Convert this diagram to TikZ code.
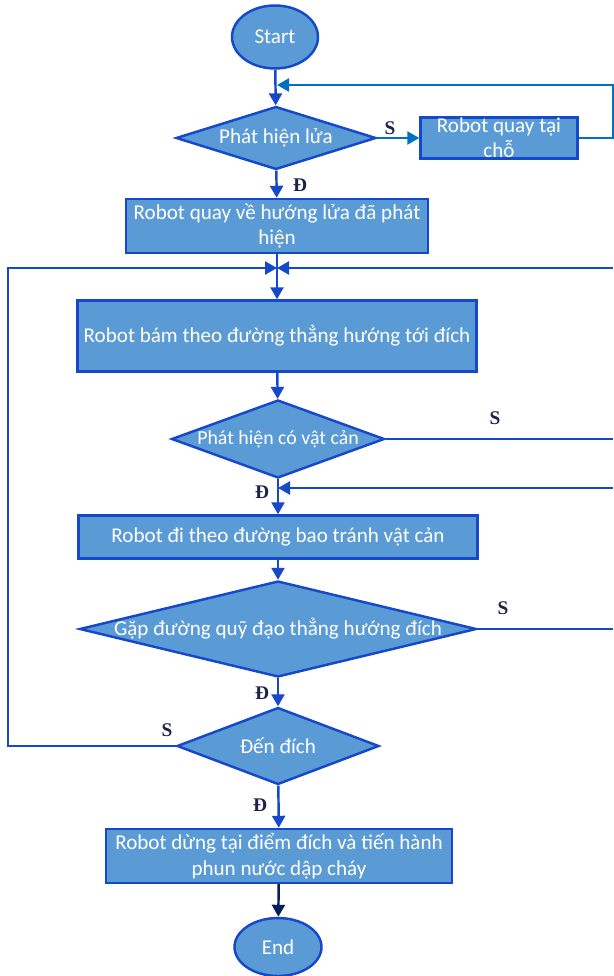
\documentclass[tikz,border=0pt]{standalone}
\usepackage{fontspec}
\setmainfont{Carlito}
\newfontfamily\labelfont{Liberation Serif}
\usetikzlibrary{shapes.geometric,arrows.meta}
\definecolor{boxfill}{RGB}{91,155,213}
\definecolor{boxline}{RGB}{22,72,204}
\definecolor{loopline}{RGB}{0,112,192}
\definecolor{navy}{RGB}{0,32,96}
\definecolor{labelcol}{RGB}{28,36,72}

\begin{document}
\begin{tikzpicture}[x=0.02cm, y=-0.02cm,
  every node/.style={font=\fontsize{12}{14.5}\selectfont, text=white},
  block/.style={rectangle, draw=boxline, fill=boxfill, line width=1.4pt, align=center, inner sep=0pt},
  decision/.style={diamond, draw=boxline, fill=boxfill, line width=1.4pt, inner sep=0pt},
  terminal/.style={ellipse, draw=boxline, fill=boxfill, line width=1.4pt, inner sep=0pt},
  flow/.style={draw=boxline, line width=1.4pt, -{Triangle[length=2.4mm,width=2.6mm]}},
  link/.style={draw=boxline, line width=1.4pt},
  yesno/.style={font=\labelfont\bfseries\fontsize{11}{12}\selectfont, text=labelcol}]
\useasboundingbox (0,0) rectangle (613,976);

\node[terminal, minimum width=1.72cm, minimum height=1.26cm] (start) at (275,37) {Start};
\node[decision, minimum width=4cm, minimum height=1.26cm, label=center:Phát hiện lửa] (fire) at (276,138) {};
\node[block, minimum width=3.14cm, minimum height=0.82cm] (spin) at (499,138) {Robot quay tại\\chỗ};
\node[block, minimum width=6.04cm, minimum height=1.08cm] (turn) at (277,226) {Robot quay về hướng lửa đã phát\\hiện};
\node[block, minimum width=7.98cm, minimum height=1.42cm] (follow) at (277,336) {Robot bám theo đường thẳng hướng tới đích};
\node[decision, minimum width=4.26cm, minimum height=1.56cm, label={[font=\fontsize{11.3}{13}\selectfont]center:Phát hiện có vật cản}] (obst) at (278,439) {};
\node[block, minimum width=7.98cm, minimum height=0.86cm] (avoid) at (278,537) {Robot đi theo đường bao tránh vật cản};
\node[decision, minimum width=7.94cm, minimum height=1.92cm, label=center:Gặp đường quỹ đạo thẳng hướng đích] (meet) at (278,629) {};
\node[decision, minimum width=4.04cm, minimum height=1.54cm, label=center:Đến đích] (goal) at (278,746) {};
\node[block, minimum width=6.92cm, minimum height=1.08cm] (spray) at (279,856) {Robot dừng tại điểm đích và tiến hành\\phun nước dập cháy};
\node[terminal, minimum width=1.74cm, minimum height=1.16cm] (end) at (278,947) {End};

\coordinate (top) at (277,85);
\coordinate (join) at (277,268);
\coordinate (back) at (278,488);
\coordinate (right1) at (613,268);
\coordinate (right2) at (613,439);
\coordinate (right3) at (613,488);
\coordinate (right4) at (613,629);
\coordinate (left) at (8,746);

\draw[flow] (start) -- (fire);
\draw[loopline, line width=1.4pt, -{Triangle[length=2.4mm,width=2.6mm]}] (fire) -- (spin);
\draw[loopline, line width=1.4pt, -{Triangle[length=2.4mm,width=2.6mm]}] (spin.east) -- ++(35,0) |- (top);
\draw[flow] (fire) -- (turn);
\draw[flow] (turn) -- (follow);
\draw[flow] (right1) -- (join);
\draw[flow] (goal.west) -- (left) |- (join);
\draw[flow] (follow) -- (obst);
\draw[link] (obst.east) -- (right2);
\draw[flow] (obst) -- (avoid);
\draw[flow] (right3) -- (back);
\draw[flow] (avoid) -- (meet);
\draw[link] (meet.east) -- (right4);
\draw[flow] (meet) -- (goal);
\draw[flow] (goal) -- (spray);
\draw[navy, line width=1.4pt, -{Triangle[length=2.4mm,width=2.6mm]}] (spray) -- (end);

\node[yesno] (s1) at (390,128) {S};
\node[yesno] (d1) at (300,185) {Đ};
\node[yesno] (s2) at (495,418) {S};
\node[yesno] (d2) at (262,492) {Đ};
\node[yesno] (s3) at (503,608) {S};
\node[yesno] (d3) at (262,693) {Đ};
\node[yesno] (s4) at (167,730) {S};
\node[yesno] (d4) at (260,805) {Đ};
\end{tikzpicture}
\end{document}
